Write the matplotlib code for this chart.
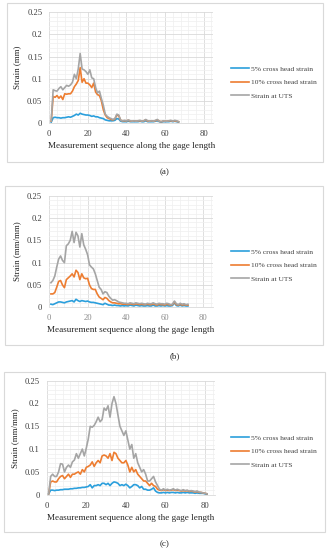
import matplotlib
matplotlib.use("Agg")
import matplotlib.pyplot as plt
from matplotlib.patches import Rectangle
from matplotlib.ticker import MultipleLocator
import numpy as np

plt.rcParams["font.family"] = ["Liberation Serif", "DejaVu Serif"]

series_names = ["5% cross head strain", "10% cross head strain", "Strain at UTS"]
series_colors = ["#2b9fdc", "#ed7d31", "#a5a5a5"]

blue_a = [0.002, 0.012, 0.013, 0.012, 0.012, 0.011, 0.012, 0.012, 0.013, 0.014,
          0.013, 0.015, 0.017, 0.020, 0.018, 0.022, 0.020, 0.019, 0.018, 0.018,
          0.017, 0.015, 0.016, 0.014, 0.014, 0.012, 0.011, 0.010, 0.007, 0.006,
          0.005, 0.005, 0.005, 0.006, 0.010, 0.009, 0.004, 0.003, 0.003, 0.003,
          0.004, 0.003, 0.003, 0.003, 0.003, 0.003, 0.004, 0.003, 0.003, 0.005,
          0.003, 0.003, 0.003, 0.003, 0.004, 0.005, 0.003, 0.002, 0.003, 0.003,
          0.003, 0.003, 0.004, 0.003, 0.004, 0.003, 0.002]
orange_a = [0.004, 0.060, 0.058, 0.062, 0.056, 0.061, 0.053, 0.066, 0.065, 0.066,
            0.066, 0.072, 0.082, 0.088, 0.096, 0.125, 0.092, 0.100, 0.090, 0.090,
            0.086, 0.080, 0.090, 0.070, 0.064, 0.062, 0.050, 0.030, 0.018, 0.012,
            0.010, 0.008, 0.007, 0.009, 0.018, 0.016, 0.006, 0.005, 0.005, 0.005,
            0.006, 0.004, 0.004, 0.005, 0.004, 0.005, 0.005, 0.004, 0.005, 0.007,
            0.004, 0.004, 0.005, 0.004, 0.005, 0.007, 0.004, 0.003, 0.004, 0.004,
            0.004, 0.005, 0.005, 0.004, 0.005, 0.004, 0.003]
gray_a = [0.005, 0.075, 0.073, 0.072, 0.078, 0.082, 0.075, 0.080, 0.085, 0.083,
          0.086, 0.092, 0.110, 0.100, 0.122, 0.157, 0.122, 0.120, 0.116, 0.110,
          0.120, 0.102, 0.100, 0.080, 0.068, 0.072, 0.055, 0.040, 0.020, 0.015,
          0.012, 0.010, 0.008, 0.010, 0.020, 0.018, 0.006, 0.005, 0.006, 0.005,
          0.007, 0.005, 0.004, 0.005, 0.004, 0.005, 0.006, 0.004, 0.005, 0.008,
          0.005, 0.004, 0.005, 0.004, 0.006, 0.008, 0.004, 0.003, 0.005, 0.004,
          0.004, 0.005, 0.006, 0.004, 0.006, 0.005, 0.003]

blue_b = [0.007, 0.006, 0.008, 0.010, 0.012, 0.012, 0.011, 0.010, 0.012, 0.013,
          0.014, 0.015, 0.012, 0.018, 0.015, 0.013, 0.015, 0.014, 0.013, 0.014,
          0.012, 0.011, 0.011, 0.010, 0.009, 0.008, 0.007, 0.006, 0.009, 0.007,
          0.005, 0.005, 0.004, 0.005, 0.004, 0.004, 0.003, 0.004, 0.003, 0.004,
          0.003, 0.005, 0.004, 0.003, 0.005, 0.004, 0.003, 0.004, 0.003, 0.003,
          0.004, 0.003, 0.003, 0.005, 0.003, 0.003, 0.004, 0.003, 0.004, 0.003,
          0.004, 0.003, 0.003, 0.004, 0.010, 0.004, 0.003, 0.005, 0.003, 0.004,
          0.003, 0.003]
orange_b = [0.030, 0.030, 0.033, 0.045, 0.058, 0.060, 0.050, 0.044, 0.062, 0.066,
            0.070, 0.075, 0.068, 0.083, 0.078, 0.062, 0.075, 0.066, 0.064, 0.065,
            0.050, 0.042, 0.040, 0.040, 0.030, 0.023, 0.020, 0.017, 0.022, 0.020,
            0.015, 0.012, 0.010, 0.010, 0.009, 0.008, 0.008, 0.007, 0.007, 0.007,
            0.006, 0.008, 0.007, 0.006, 0.008, 0.007, 0.006, 0.007, 0.006, 0.006,
            0.007, 0.006, 0.006, 0.008, 0.006, 0.005, 0.007, 0.006, 0.006, 0.005,
            0.007, 0.006, 0.005, 0.006, 0.012, 0.006, 0.005, 0.007, 0.005, 0.006,
            0.005, 0.005]
gray_b = [0.055, 0.060, 0.070, 0.090, 0.108, 0.115, 0.105, 0.100, 0.138, 0.142,
          0.150, 0.170, 0.145, 0.168, 0.160, 0.135, 0.165, 0.140, 0.130, 0.118,
          0.095, 0.090, 0.086, 0.075, 0.060, 0.045, 0.040, 0.030, 0.035, 0.033,
          0.025, 0.020, 0.016, 0.017, 0.015, 0.012, 0.011, 0.010, 0.009, 0.009,
          0.008, 0.010, 0.009, 0.008, 0.010, 0.009, 0.008, 0.009, 0.008, 0.007,
          0.009, 0.008, 0.008, 0.010, 0.008, 0.007, 0.009, 0.008, 0.008, 0.007,
          0.009, 0.008, 0.006, 0.007, 0.014, 0.008, 0.006, 0.009, 0.007, 0.008,
          0.006, 0.007]

blue_c = [0.002, 0.010, 0.010, 0.009, 0.010, 0.010, 0.011, 0.011, 0.012, 0.012,
          0.012, 0.013, 0.013, 0.014, 0.014, 0.015, 0.015, 0.016, 0.016, 0.017,
          0.018, 0.022, 0.015, 0.020, 0.020, 0.022, 0.020, 0.025, 0.025, 0.022,
          0.025, 0.020, 0.025, 0.028, 0.027, 0.025, 0.020, 0.022, 0.020, 0.023,
          0.020, 0.015, 0.018, 0.022, 0.022, 0.020, 0.015, 0.018, 0.012, 0.012,
          0.010, 0.010, 0.012, 0.015, 0.008, 0.005, 0.004, 0.004, 0.005, 0.004,
          0.005, 0.004, 0.005, 0.005, 0.004, 0.005, 0.004, 0.004, 0.005, 0.004,
          0.005, 0.004, 0.004, 0.004, 0.003, 0.004, 0.003, 0.003, 0.003, 0.002,
          0.001]
orange_c = [0.002, 0.028, 0.030, 0.028, 0.028, 0.035, 0.040, 0.042, 0.035, 0.040,
            0.045, 0.038, 0.045, 0.045, 0.048, 0.050, 0.045, 0.055, 0.050, 0.060,
            0.062, 0.065, 0.072, 0.062, 0.070, 0.075, 0.070, 0.085, 0.087, 0.085,
            0.080, 0.090, 0.075, 0.093, 0.090, 0.080, 0.075, 0.070, 0.070, 0.075,
            0.065, 0.050, 0.060, 0.050, 0.055, 0.045, 0.040, 0.035, 0.030, 0.030,
            0.025, 0.020, 0.025, 0.020, 0.018, 0.012, 0.010, 0.009, 0.011, 0.009,
            0.010, 0.009, 0.010, 0.011, 0.009, 0.010, 0.009, 0.008, 0.009, 0.008,
            0.009, 0.007, 0.008, 0.007, 0.006, 0.007, 0.005, 0.005, 0.004, 0.003,
            0.002]
gray_c = [0.002, 0.040, 0.045, 0.040, 0.040, 0.050, 0.068, 0.067, 0.050, 0.060,
          0.065, 0.060, 0.072, 0.076, 0.090, 0.080, 0.090, 0.100, 0.085, 0.102,
          0.122, 0.150, 0.148, 0.152, 0.160, 0.170, 0.160, 0.165, 0.190, 0.185,
          0.195, 0.170, 0.200, 0.215, 0.200, 0.175, 0.150, 0.140, 0.130, 0.140,
          0.120, 0.100, 0.110, 0.080, 0.090, 0.070, 0.060, 0.050, 0.055, 0.045,
          0.030, 0.030, 0.035, 0.040, 0.028, 0.020, 0.012, 0.010, 0.013, 0.010,
          0.012, 0.010, 0.011, 0.013, 0.010, 0.012, 0.010, 0.009, 0.011, 0.009,
          0.010, 0.008, 0.009, 0.008, 0.007, 0.008, 0.006, 0.005, 0.004, 0.003,
          0.002]

y_ticks = [0, 0.05, 0.1, 0.15, 0.2, 0.25]
y_tick_labels = ["0", "0.05", "0.1", "0.15", "0.2", "0.25"]
x_ticks = [0, 20, 40, 60, 80]

W, H = 329, 550
fig = plt.figure(figsize=(W / 100, H / 100), dpi=100)
fig.patch.set_facecolor("white")


def px_axes(x0, y0, x1, y1):
    """Axes from pixel box (top-left origin)."""
    return fig.add_axes([x0 / W, 1 - y1 / H, (x1 - x0) / W, (y1 - y0) / H])


def panel(box, plot_box, data, ylabel, letter, letter_xy, xtick_color):
    bx0, by0, bx1, by1 = box
    fig.patches.append(Rectangle((bx0 / W, 1 - by1 / H), (bx1 - bx0) / W, (by1 - by0) / H,
                                 transform=fig.transFigure, fill=False,
                                 edgecolor="#d9d9d9", linewidth=0.8))
    ax = px_axes(*plot_box)
    for vals, color, name in zip(data, series_colors, series_names):
        x = np.arange(1, len(vals) + 1)
        ax.plot(x, vals, color=color, linewidth=1.2, label=name, solid_joinstyle="round")
    ax.set_xlim(0, 85)
    ax.set_ylim(0, 0.25)
    ax.set_xticks(x_ticks)
    ax.set_yticks(y_ticks)
    ax.set_yticklabels(y_tick_labels)
    ax.xaxis.set_minor_locator(MultipleLocator(4))
    ax.yaxis.set_minor_locator(MultipleLocator(0.01))
    ax.grid(True, which="major", color="#d9d9d9", linewidth=0.6)
    ax.grid(True, which="minor", color="#efefef", linewidth=0.5)
    ax.set_axisbelow(True)
    ax.tick_params(which="both", length=0, labelsize=6.2, colors="#404040", pad=5)
    ax.tick_params(axis="x", labelcolor=xtick_color)
    for side in ["top", "right", "left"]:
        ax.spines[side].set_visible(False)
    ax.spines["bottom"].set_color("#d9d9d9")
    ax.spines["bottom"].set_linewidth(0.6)
    ax.set_xlabel("Measurement sequence along the gage length", fontsize=6.6, color="#262626", labelpad=3)
    ax.set_ylabel(ylabel, fontsize=6.5, color="#262626", labelpad=4)
    leg = ax.legend(loc="upper left", bbox_to_anchor=(227 / W, 1 - (by0 + 59) / H),
                    bbox_transform=fig.transFigure, frameon=False, fontsize=5.4,
                    handlelength=2.4, handletextpad=0.25, labelspacing=0.95, borderpad=0)
    for t in leg.get_texts():
        t.set_color("#404040")
    fig.text(letter_xy[0] / W, 1 - letter_xy[1] / H, letter, fontsize=6.5,
             ha="center", va="center", color="#262626")
    return ax


panel((7, 3, 323, 162), (49.3, 12.3, 213.3, 123), [blue_a, orange_a, gray_a],
      "Strain (mm)", "(a)", (165, 172.5), "#404040")
panel((5, 186, 323, 345), (49, 195.7, 213, 307.3), [blue_b, orange_b, gray_b],
      "Strain (mm/mm)", "(b)", (175, 356.5), "#8c8c8c")
panel((4, 372, 325, 532), (46.7, 380.7, 214.9, 494.7), [blue_c, orange_c, gray_c],
      "Strain (mm/mm)", "(c)", (165, 544), "#404040")

fig.savefig("out.png", dpi=100)
